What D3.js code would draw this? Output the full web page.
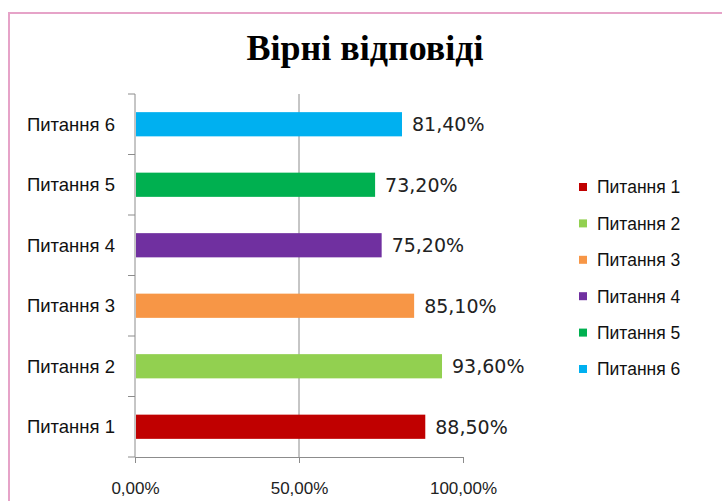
<!DOCTYPE html>
<html>
<head>
<meta charset="utf-8">
<script src="https://cdn.jsdelivr.net/npm/d3@7"></script>
<style>
  body { margin: 0; background: #fff; }
</style>
</head>
<body>
<div id="chart"></div>
<script>
const questions = ['Питання 1', 'Питання 2', 'Питання 3', 'Питання 4', 'Питання 5', 'Питання 6'];
const correctShare = [88.5, 93.6, 85.1, 75.2, 73.2, 81.4];
const barColors = ['#c00000', '#92d050', '#f79646', '#7030a0', '#00b050', '#00b0f0'];
const xTicks = [0, 50, 100];

const fmt = v => d3.format('.2f')(v).replace('.', ',') + '%';

const svg = d3.select('#chart').append('svg')
    .attr('width', 722)
    .attr('height', 501);

// frame
svg.append('rect')
    .attr('x', 9).attr('y', 13)
    .attr('width', 760).attr('height', 520)
    .attr('fill', '#fff')
    .attr('stroke', '#e6a3c8')
    .attr('stroke-width', 2);

svg.append('text')
    .attr('x', 365).attr('y', 60)
    .attr('text-anchor', 'middle')
    .attr('font-family', '"Liberation Serif", "Times New Roman", serif')
    .attr('font-weight', 'bold')
    .attr('font-size', 36)
    .text('Вірні відповіді');

const x = d3.scaleLinear().domain([0, 100]).range([135, 463]);
// Питання 1 at the bottom
const y = d3.scaleBand().domain(questions.slice().reverse()).range([94, 457]).paddingInner(0.6).paddingOuter(0.3);

const axisColor = '#8c8c8c';

// gridline at 50%
svg.append('line')
    .attr('x1', x(50)).attr('x2', x(50))
    .attr('y1', 94).attr('y2', 457)
    .attr('stroke', axisColor);

// x axis
const xAxis = svg.append('g')
    .attr('transform', 'translate(0,457)')
    .call(d3.axisBottom(x).tickValues(xTicks).tickFormat(fmt).tickSize(6).tickPadding(19));
xAxis.select('.domain').attr('stroke', axisColor);
xAxis.selectAll('.tick line').attr('stroke', axisColor);
xAxis.selectAll('.tick text')
    .attr('font-family', '"Liberation Sans", Arial, sans-serif')
    .attr('font-size', 17)
    .attr('fill', '#222');

// y axis: line + ticks between categories
svg.append('line')
    .attr('x1', 135).attr('x2', 135)
    .attr('y1', 94).attr('y2', 457)
    .attr('stroke', axisColor);
svg.selectAll('.ytick')
    .data(d3.range(questions.length + 1))
    .join('line')
    .attr('x1', 128).attr('x2', 135)
    .attr('y1', i => 94 + i * (363 / questions.length))
    .attr('y2', i => 94 + i * (363 / questions.length))
    .attr('stroke', axisColor);

svg.selectAll('.cat')
    .data(questions)
    .join('text')
    .attr('x', 115)
    .attr('y', d => y(d) + y.bandwidth() / 2)
    .attr('dy', '0.36em')
    .attr('text-anchor', 'end')
    .attr('font-family', '"Liberation Sans", Arial, sans-serif')
    .attr('font-size', 18.5)
    .attr('fill', '#111')
    .text(d => d);

// bars
svg.selectAll('.bar')
    .data(questions)
    .join('rect')
    .attr('x', x(0) + 1)
    .attr('y', d => y(d))
    .attr('width', (d, i) => x(correctShare[i]) - x(0) - 1)
    .attr('height', y.bandwidth())
    .attr('fill', (d, i) => barColors[i]);

svg.selectAll('.val')
    .data(questions)
    .join('text')
    .attr('x', (d, i) => x(correctShare[i]) + 10)
    .attr('y', d => y(d) + y.bandwidth() / 2)
    .attr('dy', '0.36em')
    .attr('font-family', '"DejaVu Sans", Tahoma, sans-serif')
    .attr('font-size', 19)
    .attr('fill', '#222')
    .text((d, i) => fmt(correctShare[i]));

// legend
const legend = svg.selectAll('.leg')
    .data(questions)
    .join('g')
    .attr('transform', (d, i) => `translate(579,${187 + i * 36.4})`);
legend.append('rect')
    .attr('x', 0).attr('y', -4)
    .attr('width', 8).attr('height', 8)
    .attr('fill', (d, i) => barColors[i]);
legend.append('text')
    .attr('x', 18).attr('y', 0)
    .attr('dy', '0.36em')
    .attr('font-family', '"Liberation Sans", Arial, sans-serif')
    .attr('font-size', 17.5)
    .attr('fill', '#111')
    .text(d => d);
</script>
</body>
</html>
